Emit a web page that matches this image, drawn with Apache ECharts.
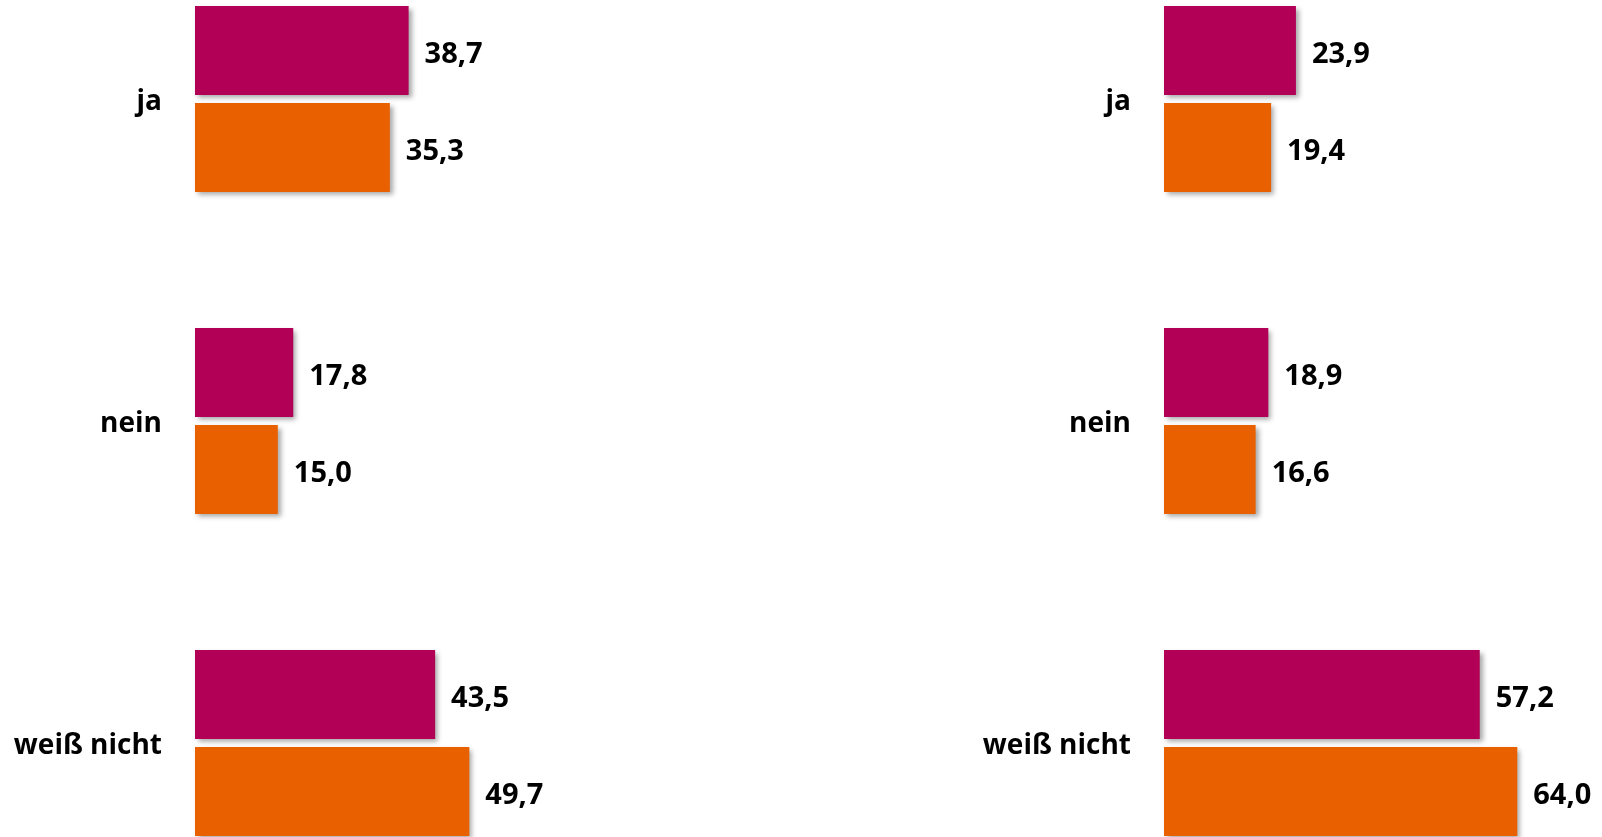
<!DOCTYPE html>
<html>
<head>
<meta charset="utf-8">
<script src="https://cdn.jsdelivr.net/npm/echarts@6/dist/echarts.min.js"></script>
<style>
html,body{margin:0;padding:0;background:#fff;}
#c{width:1602px;height:837px;}
</style>
</head>
<body>
<div id="c"></div>
<script>
const categories = ['ja', 'nein', 'weiß nicht'];
const leftMagenta = [38.7, 17.8, 43.5];
const leftOrange = [35.3, 15.0, 49.7];
const rightMagenta = [23.9, 18.9, 57.2];
const rightOrange = [19.4, 16.6, 64.0];

const MAGENTA = '#B10056';
const ORANGE = '#E96000';
const FONT = '"Open Sans", "DejaVu Sans", sans-serif';

const chart = echarts.init(document.getElementById('c'), null, {renderer: 'canvas'});

function fmt(p) { return p.value.toFixed(1).replace('.', ','); }

function mkSeries(data, color, idx) {
  return {
    type: 'bar',
    xAxisIndex: idx, yAxisIndex: idx,
    data: data,
    barWidth: 89,
    barGap: '9%',
    itemStyle: {
      color: color,
      shadowColor: 'rgba(0,0,0,0.35)',
      shadowBlur: 5,
      shadowOffsetX: 3,
      shadowOffsetY: 3
    },
    label: {
      show: true,
      position: 'right',
      distance: 16,
      offset: [0, 4],
      formatter: fmt,
      color: '#000',
      fontWeight: 'bold',
      fontSize: 29,
      fontFamily: FONT
    },
    animation: false
  };
}

function yAx(idx) {
  return {
    type: 'category', gridIndex: idx, data: categories, inverse: true,
    axisLine: {show: false}, axisTick: {show: false}, splitLine: {show: false},
    axisLabel: {
      margin: 33,
      formatter: function (v) { return '{a|' + v + '}'; },
      rich: {
        a: {color: '#000', fontWeight: 'bold', fontSize: 28, fontFamily: FONT, padding: [6, 0, 0, 0]}
      }
    }
  };
}
function xAx(idx) {
  return {type: 'value', gridIndex: idx, min: 0, max: 70, show: false};
}

chart.setOption({
  backgroundColor: '#fff',
  animation: false,
  grid: [
    {left: 195, width: 386.4, top: -62, height: 966, containLabel: false, outerBoundsMode: 'none'},
    {left: 1164, width: 386.4, top: -62, height: 966, containLabel: false, outerBoundsMode: 'none'}
  ],
  xAxis: [xAx(0), xAx(1)],
  yAxis: [yAx(0), yAx(1)],
  series: [
    mkSeries(leftMagenta, MAGENTA, 0),
    mkSeries(leftOrange, ORANGE, 0),
    mkSeries(rightMagenta, MAGENTA, 1),
    mkSeries(rightOrange, ORANGE, 1)
  ]
});
</script>
</body>
</html>
